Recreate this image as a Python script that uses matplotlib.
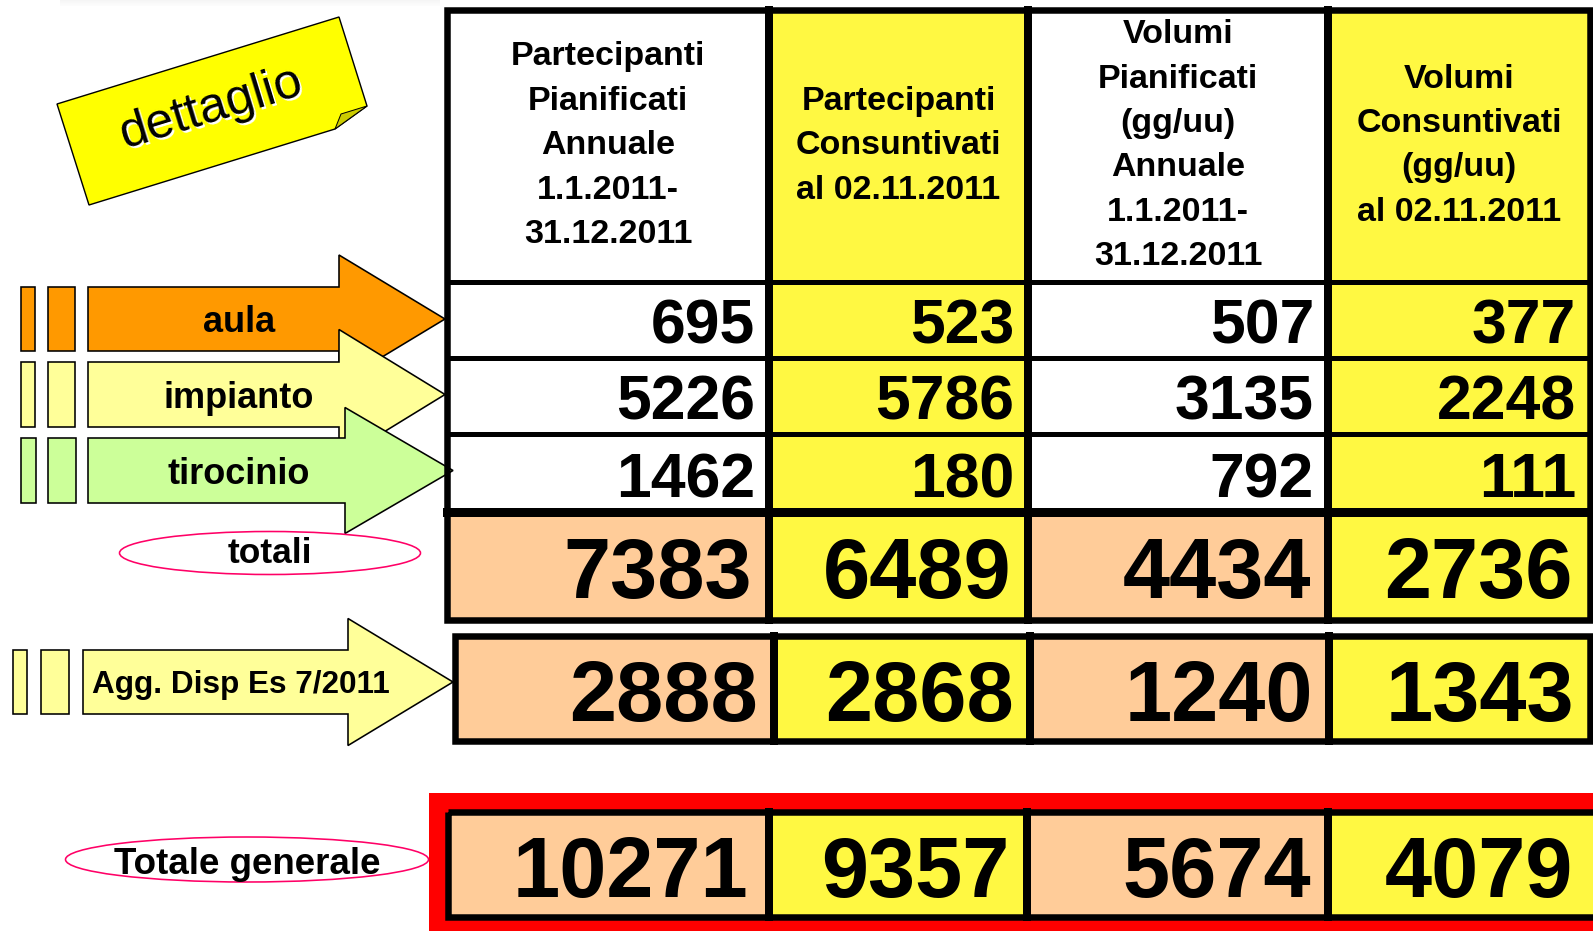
import matplotlib
matplotlib.use('Agg')
import matplotlib.pyplot as plt
from matplotlib.patches import Rectangle, Polygon, Ellipse

# ---------------- data ----------------
column_headers = [
    "Partecipanti\nPianificati\nAnnuale\n1.1.2011-\n31.12.2011",
    "Partecipanti\nConsuntivati\nal 02.11.2011",
    "Volumi\nPianificati\n(gg/uu)\nAnnuale\n1.1.2011-\n31.12.2011",
    "Volumi\nConsuntivati\n(gg/uu)\nal 02.11.2011",
]
categories = ["aula", "impianto", "tirocinio"]
partecipanti_pianificati = [695, 5226, 1462]
partecipanti_consuntivati = [523, 5786, 180]
volumi_pianificati = [507, 3135, 792]
volumi_consuntivati = [377, 2248, 111]
totali_label = "totali"
totali = [7383, 6489, 4434, 2736]
agg_label = "Agg. Disp Es 7/2011"
agg_values = [2888, 2868, 1240, 1343]
totale_label = "Totale generale"
totale_generale = [10271, 9357, 5674, 4079]
tag_label = "dettaglio"

# ---------------- style ----------------
W, H = 1593, 931
PX = 0.72  # points per pixel at 100 dpi
FONT = "Liberation Sans"
WHITE = "#FFFFFF"
YELLOW = "#FFF842"
PEACH = "#FFCC99"
ORANGE = "#FF9900"
LIGHTY = "#FFFF99"
LIGHTG = "#CCFF99"
PINK = "#FF0066"
RED = "#FF0000"

fig = plt.figure(figsize=(W / 100, H / 100), dpi=100)
ax = fig.add_axes([0, 0, 1, 1])
ax.set_xlim(0, W)
ax.set_ylim(H, 0)
ax.axis("off")


def vline(x, y0, y1, px, z=5, color="black"):
    ax.plot([x, x], [y0, y1], color=color, lw=px * PX, solid_capstyle="projecting", zorder=z)


def hline(y, x0, x1, px, z=5, color="black"):
    ax.plot([x0, x1], [y, y], color=color, lw=px * PX, solid_capstyle="projecting", zorder=z)


def cell(x0, x1, y0, y1, color, z=2):
    ax.add_patch(Rectangle((x0, y0), x1 - x0, y1 - y0, facecolor=color, edgecolor="none", zorder=z))


def arrow(x0, xh, xt, yc, bh, hh, color, z):
    pts = [(x0, yc - bh), (xh, yc - bh), (xh, yc - hh), (xt, yc),
           (xh, yc + hh), (xh, yc + bh), (x0, yc + bh)]
    ax.add_patch(Polygon(pts, closed=True, facecolor=color, edgecolor="black",
                         lw=1.6 * PX, joinstyle="miter", zorder=z))


def stubs(xs, yc, bh, color, z):
    for (a, b) in xs:
        ax.add_patch(Rectangle((a, yc - bh), b - a, 2 * bh, facecolor=color,
                               edgecolor="black", lw=1.6 * PX, zorder=z))


# faint shadow at the top edge
for k in range(6):
    ax.add_patch(Rectangle((60, k), 380, 1, facecolor="#E4E4E4", alpha=0.35 - k * 0.055,
                           edgecolor="none", zorder=0))

# ---------------- sticky note ----------------
note = [(57, 104), (339, 17), (367, 106), (335, 129), (89, 205)]
ax.add_patch(Polygon(note, closed=True, facecolor="#FFFF00", edgecolor="black",
                     lw=1.4 * PX, joinstyle="miter", zorder=3))
ax.add_patch(Polygon([(367, 106), (341, 114), (335, 129)], closed=True,
                     facecolor="#CCCC00", edgecolor="black", lw=1.0 * PX, zorder=3))
ax.text(214, 110, tag_label, fontsize=36, family=FONT, color="white",
        rotation=17, ha="center", va="center", rotation_mode="anchor", zorder=4)
ax.text(212, 108, tag_label, fontsize=36, family=FONT, color="black",
        rotation=17, ha="center", va="center", rotation_mode="anchor", zorder=4)

# ---------------- arrows ----------------
arrow_specs = [  # (x0, x_head, x_tip, yc, body_half, head_half, stub xs)
    (88, 339, 445, 319, 32, 64, [(21, 35), (48, 75)]),
    (88, 339, 445, 394.5, 32.5, 65, [(21, 35), (48, 75)]),
    (88, 345, 453, 470.5, 32.5, 63, [(21, 36), (48, 76)]),
]
arrow_colors = [ORANGE, LIGHTY, LIGHTG]
for i, (spec, col, lab) in enumerate(zip(arrow_specs, arrow_colors, categories)):
    x0, xh, xt, yc, bh, hh, sx = spec
    stubs(sx, yc, bh, col, 1 + i)
    arrow(x0, xh, xt, yc, bh, hh, col, 1 + i)
    ax.text(239, yc + 13, lab, fontsize=26, family=FONT, weight="bold",
            ha="center", va="baseline", zorder=1 + i)

stubs([(13, 27), (41, 69)], 682, 32, LIGHTY, 1)
arrow(83, 348, 453, 682, 32, 63.5, LIGHTY, 1)
ax.text(92, 693, agg_label, fontsize=22.7, family=FONT, weight="bold",
        ha="left", va="baseline", zorder=2)

# ellipses with labels
ax.add_patch(Ellipse((270, 553), 301, 43, facecolor="none", edgecolor=PINK, lw=1.6 * PX, zorder=6))
ax.text(270, 563, totali_label, fontsize=25.5, family=FONT, weight="bold",
        ha="center", va="baseline", zorder=6)
ax.add_patch(Ellipse((247, 859.5), 363, 45, facecolor="none", edgecolor=PINK, lw=1.6 * PX, zorder=6))
ax.text(247.5, 874, totale_label, fontsize=26.5, family=FONT, weight="bold",
        ha="center", va="baseline", zorder=7)

# ---------------- main table ----------------
col_x = [447, 769, 1028, 1328, 1590]
row_y = [10, 281.5, 357.5, 433.5, 512, 619.5]
light_cols = [WHITE, YELLOW, WHITE, YELLOW]
total_cols = [PEACH, YELLOW, PEACH, YELLOW]

detail = list(zip(partecipanti_pianificati, partecipanti_consuntivati,
                  volumi_pianificati, volumi_consuntivati))

for c in range(4):
    for r in range(4):
        cell(col_x[c], col_x[c + 1], row_y[r], row_y[r + 1], light_cols[c])
    cell(col_x[c], col_x[c + 1], row_y[4], row_y[5], total_cols[c])
    # header
    ax.text((col_x[c] + col_x[c + 1]) / 2, (row_y[0] + row_y[1]) / 2, column_headers[c],
            fontsize=24.5, family=FONT, weight="bold", ha="center", va="center",
            multialignment="center", linespacing=1.56, zorder=6)

SMALL = 45
BIG = 61
for r, vals in enumerate(detail):
    yc = (row_y[r + 1] + row_y[r + 2]) / 2
    for c, v in enumerate(vals):
        ax.text(col_x[c + 1] - 14, yc + 0.358 * SMALL / PX + 2, f"{v}", fontsize=SMALL,
                family=FONT, weight="bold", ha="right", va="baseline", zorder=6)
yc = (row_y[4] + row_y[5]) / 2
for c, v in enumerate(totali):
    ax.text(col_x[c + 1] - 17, yc + 0.358 * BIG / PX + 2, f"{v}", fontsize=BIG,
            family=FONT, weight="bold", ha="right", va="baseline", zorder=6)

for x in col_x[1:-1]:
    vline(x, row_y[0], row_y[-1], 8)
for y in row_y[1:4]:
    hline(y, col_x[0], col_x[-1], 5)
hline(row_y[4], col_x[0], col_x[-1], 9)
ax.add_patch(Rectangle((col_x[0], row_y[0]), col_x[-1] - col_x[0], row_y[-1] - row_y[0],
                       fill=False, edgecolor="black", lw=6.5 * PX, joinstyle="miter", zorder=7))

# ---------------- aggiornamento row ----------------
agg_x = [455, 774, 1030, 1329, 1590]
agg_y = [636, 741]
for c, v in enumerate(agg_values):
    cell(agg_x[c], agg_x[c + 1], agg_y[0], agg_y[1], total_cols[c])
    ax.text(agg_x[c + 1] - 16, (agg_y[0] + agg_y[1]) / 2 + 0.358 * BIG / PX + 2, f"{v}",
            fontsize=BIG, family=FONT, weight="bold", ha="right", va="baseline", zorder=6)
for x in agg_x[1:-1]:
    vline(x, agg_y[0], agg_y[1], 8)
ax.add_patch(Rectangle((agg_x[0], agg_y[0]), agg_x[-1] - agg_x[0], agg_y[1] - agg_y[0],
                       fill=False, edgecolor="black", lw=6.5 * PX, joinstyle="miter", zorder=7))

# ---------------- totale generale ----------------
ax.add_patch(Rectangle((429, 793), 1200, 200, facecolor=RED, edgecolor="none", zorder=1))
tg_x = [448, 769, 1027, 1328, 1610]
tg_y = [812, 917]
for c, v in enumerate(totale_generale):
    cell(tg_x[c], tg_x[c + 1], tg_y[0], tg_y[1], total_cols[c])
    rx = min(tg_x[c + 1], 1590)
    pad = 21 if c == 0 else 17
    ax.text(rx - pad, (tg_y[0] + tg_y[1]) / 2 + 0.358 * BIG / PX + 2, f"{v}",
            fontsize=BIG, family=FONT, weight="bold", ha="right", va="baseline", zorder=6)
for x in tg_x[1:-1]:
    vline(x, tg_y[0], tg_y[1], 8)
ax.add_patch(Rectangle((tg_x[0], tg_y[0]), tg_x[-1] - tg_x[0], tg_y[1] - tg_y[0],
                       fill=False, edgecolor="black", lw=6.5 * PX, joinstyle="miter", zorder=7))

fig.savefig("out.png", dpi=100)
